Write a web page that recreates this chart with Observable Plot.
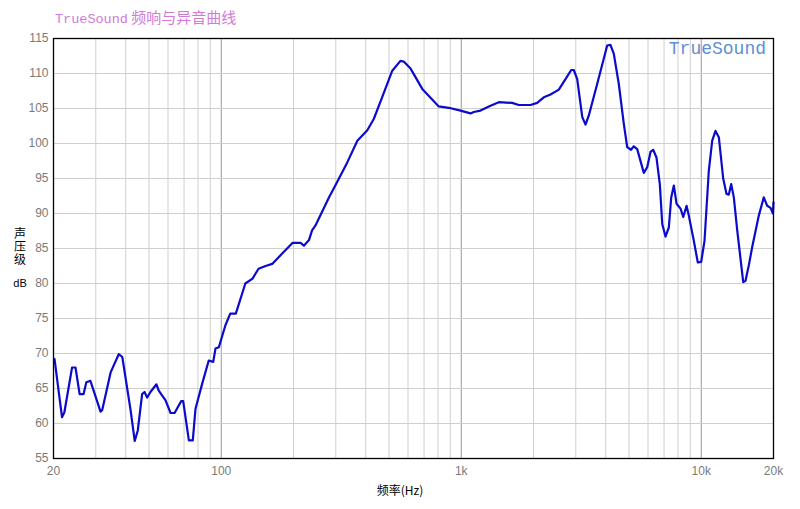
<!DOCTYPE html>
<html><head><meta charset="utf-8">
<script src="https://cdn.jsdelivr.net/npm/d3@7"></script>
<script src="https://cdn.jsdelivr.net/npm/@observablehq/plot@0.6"></script>
<style>body{margin:0;background:#fff} svg{display:block}</style>
</head><body><div id="chart"></div>
<script>
const freqs = [20.2,21.7,22.2,23.9,24.7,25.7,26.7,27.4,28.5,31.4,31.9,34.6,37.4,38.7,41.9,43.6,44.9,46.8,47.9,49.1,50.7,53.7,54.9,58.6,61.5,63.9,68.1,69.4,73.3,76.1,78.1,83.3,88.7,92.6,94.6,97.7,104,109,115,126,135,143,153,163,182,198,214,221,232,239,247,281,304,335,369,406,432,468,516,558,576,615,688,806,887,993,1093,1128,1203,1324,1434,1630,1737,1943,2072,2208,2355,2550,2719,2872,2944,3042,3192,3294,3400,3684,4056,4186,4322,4534,4757,4913,5096,5236,5409,5763,5954,6146,6306,6508,6720,6878,7096,7326,7497,7687,7888,8198,8414,8685,8875,9312,9676,9995,10318,10752,11110,11466,11836,12344,12744,13028,13332,13668,14122,14958,15290,15784,16304,17370,18222,18830,19434,19900,20000];
const levels = [69.2,60.9,61.6,68.0,68.0,64.2,64.2,65.9,66.1,61.7,61.9,67.3,69.9,69.5,61.9,57.5,59.0,64.2,64.5,63.7,64.5,65.6,64.7,63.3,61.5,61.5,63.2,63.2,57.6,57.6,62.1,65.7,69.0,68.8,70.7,70.9,74.0,75.7,75.7,80.0,80.7,82.1,82.5,82.8,84.5,85.8,85.8,85.4,86.2,87.6,88.3,92.3,94.5,97.3,100.4,101.9,103.5,106.6,110.4,111.8,111.7,110.7,107.8,105.3,105.1,104.7,104.3,104.5,104.7,105.4,105.9,105.8,105.5,105.5,105.8,106.6,107.0,107.7,109.2,110.5,110.5,109.2,103.8,102.7,104.0,108.5,114.0,114.1,112.8,108.5,102.8,99.5,99.1,99.6,99.2,95.8,96.6,98.8,99.1,98.0,94.2,88.5,86.7,88.0,92.3,94.0,91.4,90.7,89.5,91.1,89.7,86.1,83.0,83.1,86.1,96.1,100.4,101.8,100.9,95.0,92.8,92.7,94.2,92.3,87.6,80.2,80.4,82.6,85.2,89.7,92.3,91.1,90.8,90.0,91.6];

const xTicks = [20, 100, 1000, 10000, 20000];
const xTickLabels = ["20", "100", "1k", "10k", "20k"];
const xMinorGrid = [30,40,50,60,70,80,90,200,300,400,500,600,700,800,900,2000,3000,4000,5000,6000,7000,8000,9000];
const xMajorGrid = [100, 1000, 10000];
const yTicks = [55,60,65,70,75,80,85,90,95,100,105,110,115];

const titleMain = "TrueSound";
const titleCn = " 频响与异音曲线";
const watermark = "TrueSound";
const yLabel = "声压级";
const yUnit = "dB";
const xLabel = "频率(Hz)";

const data = freqs.map((f, i) => ({f, db: levels[i]}));
const fmtX = d => xTickLabels[xTicks.indexOf(d)];

const chart = Plot.plot({
  width: 800, height: 509,
  marginLeft: 53, marginRight: 27, marginTop: 38, marginBottom: 51,
  style: {fontFamily: "'Liberation Sans', Arial, sans-serif", fontSize: "12px", background: "#fff", overflow: "visible"},
  x: {type: "log", domain: [20, 20000]},
  y: {domain: [55, 115]},
  marks: [
    Plot.ruleX(xMinorGrid, {stroke: "#cfcfcf", strokeWidth: 1}),
    Plot.ruleX(xMajorGrid, {stroke: "#9a9a9a", strokeWidth: 1}),
    Plot.ruleY(yTicks, {stroke: "#cfcfcf", strokeWidth: 1}),
    Plot.line(data, {x: "f", y: "db", stroke: "#0b0bcc", strokeWidth: 2.2, curve: "linear"}),
    Plot.frame({stroke: "#000", strokeWidth: 1.3}),
    Plot.axisX({ticks: xTicks, tickFormat: fmtX, tickSize: 0, tickPadding: 8, color: "#7a7a7a", label: null}),
    Plot.axisY({ticks: yTicks, tickSize: 0, tickPadding: 5, color: "#7a7a7a", label: null})
  ]
});
document.getElementById("chart").appendChild(chart);

const svg = d3.select(chart);
const t = svg.append("text").attr("x", 55).attr("y", 23).attr("text-anchor", "start").attr("fill", "#d27ad6");
t.append("tspan").attr("font-family", "'Liberation Mono', 'DejaVu Sans Mono', monospace").attr("font-size", 13.5).text(titleMain);
t.append("tspan").attr("font-family", "'Noto Sans CJK SC', sans-serif").attr("font-size", 15).text(titleCn);

svg.append("text").attr("x", 766).attr("y", 54).attr("text-anchor", "end")
  .attr("font-family", "'Liberation Mono', 'DejaVu Sans Mono', monospace").attr("font-size", 18)
  .attr("fill", "#5d90d2").text(watermark);

svg.append("text").attr("x", 20).attr("y", 227).attr("text-anchor", "start")
  .attr("writing-mode", "vertical-rl").style("text-orientation", "upright")
  .attr("font-family", "'Noto Sans CJK SC', sans-serif").attr("font-size", 12)
  .attr("letter-spacing", 1).attr("fill", "#000").text(yLabel);
svg.append("text").attr("x", 20).attr("y", 287).attr("text-anchor", "middle")
  .attr("font-family", "'Liberation Sans', Arial, sans-serif").attr("font-size", 11).attr("fill", "#000").text(yUnit);

svg.append("text").attr("x", 400).attr("y", 495).attr("text-anchor", "middle")
  .attr("font-family", "'Noto Sans CJK SC', sans-serif").attr("font-size", 12).attr("fill", "#000").text(xLabel);
</script></body></html>
